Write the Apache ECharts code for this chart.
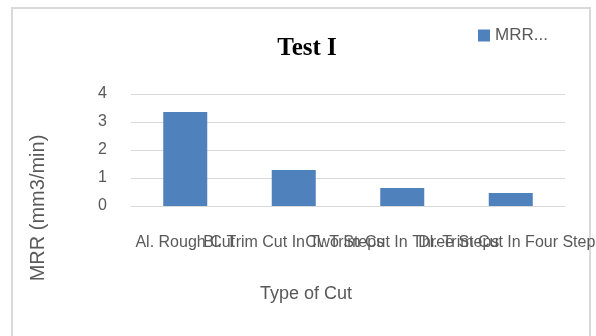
<!DOCTYPE html>
<html>
<head>
<meta charset="utf-8">
<script src="https://cdn.jsdelivr.net/npm/echarts@6/dist/echarts.min.js"></script>
<style>
html,body{margin:0;padding:0;background:#fff;}
#c{width:596px;height:336px;}
</style>
</head>
<body>
<div id="c"></div>
<script>
var categories = ['Al. Rough Cut', 'Bl. Trim Cut In Two Steps', 'Cl. Trim Cut In Three Steps', 'Dl. Trim Cut In Four Steps'];
var mrrValues = [3.36, 1.29, 0.64, 0.46];
var seriesName = 'MRR...';
var yTicks = [0, 1, 2, 3, 4];

var chart = echarts.init(document.getElementById('c'));
var font = '"Liberation Sans", sans-serif';
chart.setOption({
  animation: false,
  backgroundColor: '#ffffff',
  title: {
    text: 'Test I',
    left: 302, top: 31, textAlign: 'center',
    textStyle: {fontFamily: '"Liberation Serif", serif', fontWeight: 'bold', fontSize: 25, color: '#000'}
  },
  legend: {
    left: 473, top: 22,
    itemWidth: 12, itemHeight: 12, itemGap: 4,
    icon: 'rect',
    textStyle: {fontFamily: font, fontSize: 17, color: '#595959'},
    data: [seriesName]
  },
  graphic: [
    {type: 'rect', shape: {x: 12, y: 8, width: 578, height: 340}, style: {fill: 'none', stroke: '#d9d9d9', lineWidth: 2}, silent: true, z: -1},
    {type: 'text', x: 38, y: 208, rotation: Math.PI / 2,
     style: {text: 'MRR (mm3/min)', fontFamily: font, fontSize: 20, fill: '#595959', align: 'center', verticalAlign: 'middle'}},
    {type: 'text', x: 306, y: 294,
     style: {text: 'Type of Cut', fontFamily: font, fontSize: 18, fill: '#595959', align: 'center', verticalAlign: 'middle'}}
  ],
  grid: {left: 131, right: 31, top: 94, bottom: 130, outerBoundsMode: 'none', containLabel: false},
  xAxis: {
    type: 'category',
    data: categories,
    axisLine: {lineStyle: {color: '#d9d9d9'}},
    axisTick: {show: false},
    axisLabel: {interval: 0, margin: 29, hideOverlap: false, fontFamily: font, fontSize: 16, color: '#595959'}
  },
  yAxis: {
    type: 'value',
    min: 0, max: 4, interval: 1,
    axisLine: {show: false},
    axisTick: {show: false},
    splitLine: {lineStyle: {color: '#d9d9d9'}},
    axisLabel: {margin: 24, fontFamily: font, fontSize: 16, color: '#595959',
      formatter: function (v) { return yTicks.indexOf(v) >= 0 ? String(v) : ''; }}
  },
  series: [{
    name: seriesName,
    type: 'bar',
    data: mrrValues,
    barWidth: 44,
    itemStyle: {color: '#4f81bd'}
  }]
});
</script>
</body>
</html>
